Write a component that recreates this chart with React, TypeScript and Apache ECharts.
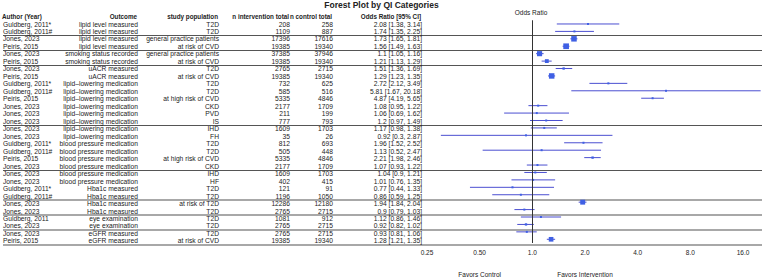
import React, { useEffect, useRef } from "react";
import * as echarts from "echarts";

const authors = [
  "Guldberg, 2011*", "Guldberg, 2011#", "Jones, 2023", "Peiris, 2015", "Jones, 2023", "Peiris, 2015",
  "Jones, 2023", "Peiris, 2015", "Guldberg, 2011*", "Guldberg, 2011#", "Peiris, 2015", "Jones, 2023",
  "Jones, 2023", "Jones, 2023", "Jones, 2023", "Jones, 2023", "Guldberg, 2011*", "Guldberg, 2011#",
  "Peiris, 2015", "Jones, 2023", "Jones, 2023", "Jones, 2023", "Guldberg, 2011*", "Guldberg, 2011#",
  "Jones, 2023", "Jones, 2023", "Guldberg, 2011", "Jones, 2023", "Jones, 2023", "Peiris, 2015",
];
const outcomes = [
  "lipid level measured", "lipid level measured", "lipid level measured", "lipid level measured",
  "smoking status recorded", "smoking status recorded", "uACR measured", "uACR measured",
  "lipid\u2013lowering medication", "lipid\u2013lowering medication", "lipid\u2013lowering medication",
  "lipid\u2013lowering medication", "lipid\u2013lowering medication", "lipid\u2013lowering medication",
  "lipid\u2013lowering medication", "lipid\u2013lowering medication",
  "blood pressure medication", "blood pressure medication", "blood pressure medication",
  "blood pressure medication", "blood pressure medication", "blood pressure medication",
  "Hba1c measured", "Hba1c measured", "Hba1c measured", "Hba1c measured",
  "eye examination", "eye examination", "eGFR measured", "eGFR measured",
];
const populations = [
  "T2D", "T2D", "general practice patients", "at risk of CVD", "general practice patients", "at risk of CVD",
  "T2D", "at risk of CVD", "T2D", "T2D", "at high risk of CVD", "CKD", "PVD", "IS", "IHD", "FH",
  "T2D", "T2D", "at high risk of CVD", "CKD", "IHD", "HF", "T2D", "T2D", "at risk of T2D", "T2D",
  "T2D", "T2D", "T2D", "at risk of CVD",
];
const nIntervention = [
  208, 1109, 17396, 19385, 37385, 19385, 2765, 19385, 732, 585, 5335, 2177, 211, 777, 1609, 35,
  812, 505, 5335, 2177, 1609, 402, 121, 1196, 12286, 2765, 1081, 2765, 2765, 19385,
];
const nControl = [
  258, 887, 17616, 19340, 37946, 19340, 2715, 19340, 625, 516, 4846, 1709, 199, 793, 1703, 26,
  693, 448, 4846, 1709, 1703, 415, 91, 1050, 12180, 2715, 912, 2715, 2715, 19340,
];
const oddsRatio = [
  2.08, 1.74, 1.73, 1.56, 1.1, 1.21, 1.51, 1.29, 2.72, 5.81, 4.87, 1.08, 1.06, 1.2, 1.17, 0.92,
  1.96, 1.13, 2.21, 1.07, 1.04, 1.01, 0.77, 0.86, 1.94, 0.9, 1.12, 0.92, 0.93, 1.28,
];
const ciLower = [
  1.38, 1.35, 1.65, 1.49, 1.05, 1.13, 1.36, 1.23, 2.12, 1.67, 4.19, 0.95, 0.69, 0.97, 0.98, 0.3,
  1.52, 0.52, 1.98, 0.93, 0.9, 0.76, 0.44, 0.59, 1.84, 0.79, 0.86, 0.82, 0.81, 1.21,
];
const ciUpper = [
  3.14, 2.25, 1.81, 1.63, 1.16, 1.29, 1.69, 1.35, 3.49, 20.18, 5.65, 1.22, 1.62, 1.49, 1.38, 2.87,
  2.52, 2.47, 2.46, 1.22, 1.21, 1.35, 1.33, 1.25, 2.04, 1.03, 1.46, 1.02, 1.06, 1.35,
];
const xTickLabels: Record<string, string> = {
  "0.25": "0.25", "0.5": "0.50", "1": "1.0", "2": "2.0", "4": "4.0", "8": "8.0", "16": "16.0",
};
const headers = ["Author (Year)", "Outcome", "study population", "n intervention total", "n control total", "Odds Ratio [95% CI]"];
const darkSeparatorsBefore = [2, 4, 6, 14, 20];
const lightSeparatorsBefore = [24, 26, 28];

const FONT = "'Liberation Sans', Arial, sans-serif";
const TOP = 20.26;
const ROW = 7.48;
const N = authors.length;
const H = ROW * N;
const TEXT = "#222";
const CI_COLOR = "#4b4fd1";
const PT_COLOR = "#3f60e4";
const BODY_FS = 6.7;

const rowIdx = authors.map((_, i) => String(i));
const ciText = oddsRatio.map((v, i) => `${v} [${ciLower[i]}, ${ciUpper[i]}]`);
const markerSize = (i: number) => {
  const se = (Math.log(ciUpper[i]) - Math.log(ciLower[i])) / (2 * 1.96);
  return Math.max(2, Math.min(6, 0.13 / se));
};

function tableAxis(col: (string | number)[], x: number, align: "left" | "right", extra: any = {}) {
  return {
    type: "category",
    gridIndex: 0,
    data: rowIdx,
    inverse: true,
    position: "left",
    offset: -(x - 2),
    axisLine: { show: false },
    axisTick: { show: false },
    splitLine: { show: false },
    axisLabel: {
      interval: 0,
      margin: 0,
      align,
      fontSize: BODY_FS,
      color: TEXT,
      fontFamily: FONT,
      formatter: (_: string, i: number) => String(col[i]),
    },
    ...extra,
  };
}

export default function App() {
  const ref = useRef<HTMLDivElement>(null);
  useEffect(() => {
    if (!ref.current) return;
    const chart = echarts.init(ref.current, undefined, { renderer: "svg" });
    const headerX = [2, 137, 218, 289, 332, 421];
    chart.setOption({
      animation: false,
      backgroundColor: "#fff",
      textStyle: { fontFamily: FONT },
      title: [
        {
          text: "Forest Plot by QI Categories",
          left: "center",
          top: 0,
          padding: 0,
          textStyle: { fontSize: 8.5, fontWeight: "bold", color: TEXT, fontFamily: FONT },
        },
      ],
      graphic: [
        ...headers.map((h, i) => ({
          type: "text",
          x: headerX[i],
          y: 16,
          style: {
            text: h,
            fill: TEXT,
            font: `bold 6.3px ${FONT}`,
            align: i === 0 ? "left" : "right",
            verticalAlign: "middle",
          },
        })),
        {
          type: "text",
          x: 531,
          y: 12,
          style: { text: "Odds Ratio", fill: TEXT, font: `6.5px ${FONT}`, align: "center", verticalAlign: "middle" },
        },
      ],
      grid: [
        { left: 2, right: 1, top: TOP, height: H },
        { left: 427, right: 20, top: TOP, height: H },
      ],
      xAxis: [
        { type: "value", gridIndex: 0, show: false, min: 0, max: 1 },
        {
          type: "log",
          logBase: 2,
          gridIndex: 1,
          min: 0.25,
          max: 16,
          axisLine: { lineStyle: { color: "#333", width: 1 } },
          axisTick: { length: 3, lineStyle: { color: "#333" } },
          splitLine: { show: false },
          axisLabel: {
            margin: 6,
            fontSize: 6.5,
            color: TEXT,
            fontFamily: FONT,
            formatter: (v: number) => xTickLabels[String(+v.toPrecision(6))] ?? "",
          },
        },
        {
          type: "log",
          logBase: 2,
          gridIndex: 1,
          min: 0.25,
          max: 16,
          position: "bottom",
          offset: 22,
          axisLine: { show: false },
          axisTick: { show: false },
          splitLine: { show: false },
          axisLabel: {
            margin: 6,
            fontSize: 6.5,
            color: TEXT,
            fontFamily: FONT,
            formatter: (v: number) => {
              if (Math.abs(v - 0.5) < 1e-6) return "Favors Control";
              if (Math.abs(v - 2) < 1e-6) return "Favors Intervention";
              return "";
            },
          },
        },
      ],
      yAxis: [
        tableAxis(authors, 2, "left", {
          splitLine: {
            show: true,
            interval: (i: number) => darkSeparatorsBefore.includes(i),
            lineStyle: { color: "#555", width: 1 },
          },
        }),
        tableAxis(outcomes, 137, "right"),
        tableAxis(populations, 218, "right"),
        tableAxis(nIntervention, 289, "right"),
        tableAxis(nControl, 332, "right"),
        tableAxis(ciText, 421, "right"),
        {
          type: "category",
          gridIndex: 0,
          data: rowIdx,
          inverse: true,
          axisLine: { show: false },
          axisTick: { show: false },
          axisLabel: { show: false },
          splitLine: {
            show: true,
            interval: (i: number) => lightSeparatorsBefore.includes(i),
            lineStyle: { color: "#a8a8a8", width: 2 },
          },
        },
        {
          type: "category",
          gridIndex: 1,
          data: rowIdx,
          inverse: true,
          show: false,
        },
      ],
      series: [
        {
          type: "custom",
          xAxisIndex: 1,
          yAxisIndex: 7,
          clip: false,
          encode: { x: [0, 1], y: 2 },
          data: authors.map((_, i) => [ciLower[i], ciUpper[i], i]),
          renderItem: (_params: any, api: any) => {
            const y = api.value(2);
            const p1 = api.coord([api.value(0), y]);
            const p2 = api.coord([api.value(1), y]);
            return {
              type: "line",
              shape: { x1: p1[0], y1: p1[1], x2: p2[0], y2: p2[1] },
              style: { stroke: CI_COLOR, lineWidth: 1 },
            };
          },
          silent: true,
          z: 3,
        },
        {
          type: "scatter",
          xAxisIndex: 1,
          yAxisIndex: 7,
          symbol: "rect",
          symbolSize: (_v: any, p: any) => markerSize(p.dataIndex),
          itemStyle: { color: PT_COLOR, opacity: 1 },
          data: authors.map((_, i) => [oddsRatio[i], i]),
          z: 4,
          markLine: {
            silent: true,
            symbol: "none",
            label: { show: false },
            lineStyle: { color: "#333", width: 1, type: "solid" },
            data: [{ xAxis: 1 }],
          },
        },
      ],
    });
    return () => chart.dispose();
  }, []);
  return (
    <div
      ref={ref}
      style={{ position: "fixed", left: 0, top: 0, width: 763, height: 278, background: "#fff" }}
    />
  );
}
